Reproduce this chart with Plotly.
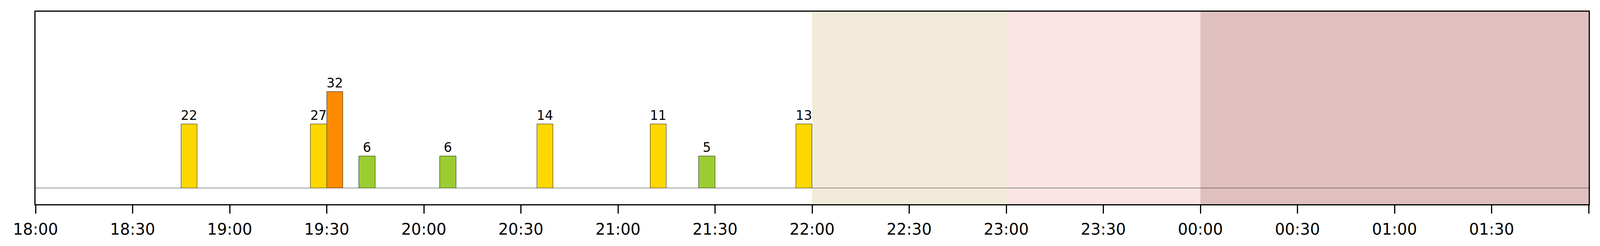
import pandas as pd
import plotly.graph_objects as go

# Bar data: start time of each 5-minute slot, the count shown above it and the level (bar height)
start_times = ["18:45", "19:25", "19:30", "19:40", "20:05", "20:35", "21:10", "21:25", "21:55"]
counts = [22, 27, 32, 6, 6, 14, 11, 5, 13]
levels = [2, 2, 3, 1, 1, 2, 2, 1, 2]

level_colors = {1: "#9ACD32", 2: "#FFD700", 3: "#FF8C00"}

# Shaded periods (start, end, colour)
band_starts = ["2024-01-01 22:00", "2024-01-01 23:00", "2024-01-02 00:00"]
band_ends = ["2024-01-01 23:00", "2024-01-02 00:00", "2024-01-02 02:00"]
band_colors = ["#F2EBDA", "#FAE4E4", "#E0BFBF"]

x_start = "2024-01-01 18:00"
x_end = "2024-01-02 02:00"


# Times after midnight belong to the next day
def to_datetime(hhmm):
    day = "2024-01-02" if int(hhmm[:2]) < 12 else "2024-01-01"
    return pd.Timestamp(day + " " + hhmm)


bar_x = [to_datetime(t) for t in start_times]
bar_colors = [level_colors[lv] for lv in levels]

fig = go.Figure()

fig.add_trace(go.Bar(
    x=bar_x,
    y=levels,
    width=[5 * 60 * 1000] * len(bar_x),
    offset=0,
    marker=dict(color=bar_colors, line=dict(color="#222222", width=1)),
    text=[str(c) for c in counts],
    textposition="outside",
    textfont=dict(size=33, color="black", family="DejaVu Sans"),
    constraintext="none",
    cliponaxis=False,
    showlegend=False,
))

# Background bands for the late-evening / night periods
for x0, x1, col in zip(band_starts, band_ends, band_colors):
    fig.add_shape(type="rect", xref="x", yref="paper", x0=x0, x1=x1, y0=0, y1=1,
                  fillcolor=col, line=dict(width=0), layer="below")

fig.update_layout(
    height=630,
    autosize=True,
    margin=dict(l=91, r=29, t=30, b=107),
    paper_bgcolor="white",
    plot_bgcolor="white",
    font=dict(family="DejaVu Sans", color="black"),
    bargap=0,
)

fig.update_xaxes(
    type="date",
    range=[x_start, x_end],
    tick0=x_start,
    dtick=30 * 60 * 1000,
    tickformat="%H:%M",
    ticks="outside",
    ticklen=21,
    tickwidth=2.5,
    tickcolor="black",
    ticklabelstandoff=6,
    tickfont=dict(size=40, family="DejaVu Sans", color="black"),
    showgrid=False,
    zeroline=False,
    showline=True,
    mirror=True,
    linecolor="black",
    linewidth=3,
)

fig.update_yaxes(
    range=[-0.5, 5.5],
    showticklabels=False,
    ticks="",
    showgrid=False,
    zeroline=True,
    zerolinecolor="#333333",
    zerolinewidth=1,
    showline=True,
    mirror=True,
    linecolor="black",
    linewidth=3,
)

# drop the default page margin so the chart fills the window
fix_page = """
document.body.style.margin = '0';
window.dispatchEvent(new Event('resize'));
"""

fig.write_html("out.html", default_width="100%",
               config={"responsive": True, "displayModeBar": False},
               post_script=fix_page)
